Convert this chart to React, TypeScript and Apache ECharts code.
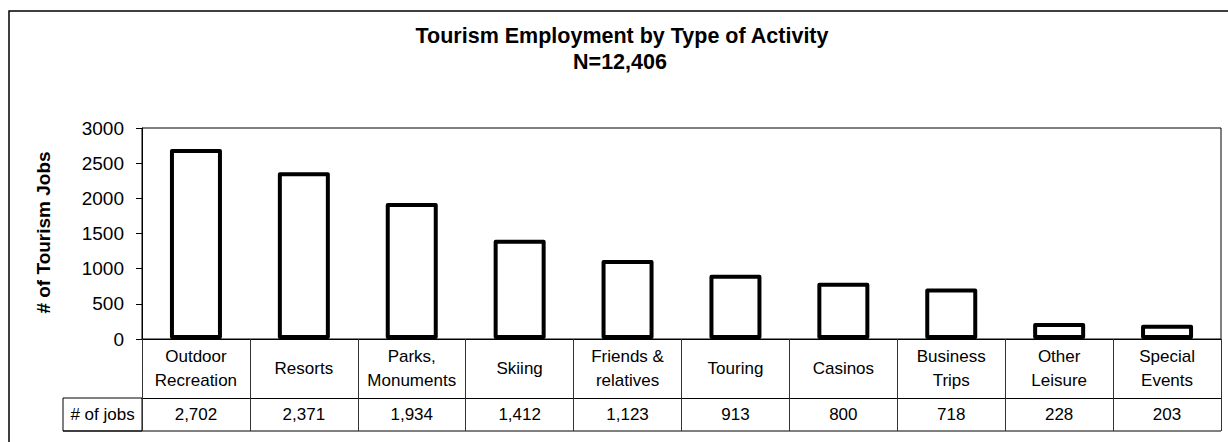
import React, { useEffect, useRef } from "react";
import * as echarts from "echarts";

const categories = [
  "Outdoor\nRecreation",
  "Resorts",
  "Parks,\nMonuments",
  "Skiing",
  "Friends &\nrelatives",
  "Touring",
  "Casinos",
  "Business\nTrips",
  "Other\nLeisure",
  "Special\nEvents",
];
const jobs = [2702, 2371, 1934, 1412, 1123, 913, 800, 718, 228, 203];
const titleLines = ["Tourism Employment by Type of Activity", "N=12,406"];
const yAxisTitle = "# of Tourism Jobs";
const rowHeader = "# of jobs";
const yMin = 0;
const yMax = 3000;
const yStep = 500;

const FONT = "'Liberation Sans', Arial, Helvetica, sans-serif";

export default function App() {
  const ref = useRef<HTMLDivElement>(null);
  useEffect(() => {
    if (!ref.current) return;
    const chart = echarts.init(ref.current, null, { renderer: "svg" });
    const gridLeft = 142;
    const gridTop = 128;
    const gridW = 1079;
    const gridH = 211;
    const gridBottomY = gridTop + gridH;
    const catRowH = 59;
    const valRowH = 33;
    const rowY = gridBottomY + catRowH;
    const bottomY = rowY + valRowH;
    const tableLeft = 63;
    chart.setOption({
      animation: false,
      backgroundColor: "#fff",
      textStyle: { fontFamily: FONT },
      grid: {
        left: gridLeft,
        top: gridTop,
        width: gridW,
        height: gridH,
        show: true,
        borderColor: "#000",
        borderWidth: 1,
        backgroundColor: "transparent",
      },
      xAxis: [
        {
          type: "category",
          data: categories,
          position: "bottom",
          boundaryGap: true,
          axisLine: { show: true, lineStyle: { color: "#000", width: 1 } },
          axisTick: {
            show: true,
            interval: 0,
            length: catRowH,
            lineStyle: { color: "#333", width: 1 },
          },
          axisLabel: {
            interval: 0,
            fontSize: 17,
            color: "#000",
            fontFamily: FONT,
            margin: 29,
            verticalAlign: "middle",
            lineHeight: 24,
          },
          splitLine: { show: false },
        },
        {
          type: "category",
          data: jobs.map((v) => v.toLocaleString("en-US")),
          position: "bottom",
          offset: catRowH,
          boundaryGap: true,
          axisLine: { show: true, lineStyle: { color: "#000", width: 1 } },
          axisTick: {
            show: true,
            interval: 0,
            length: valRowH,
            lineStyle: { color: "#333", width: 1 },
          },
          axisLabel: {
            interval: 0,
            fontSize: 17,
            color: "#000",
            fontFamily: FONT,
            margin: 16.5,
            verticalAlign: "middle",
          },
          splitLine: { show: false },
        },
      ],
      yAxis: {
        type: "value",
        min: yMin,
        max: yMax,
        interval: yStep,
        axisLine: { show: true, lineStyle: { color: "#000", width: 1 } },
        axisTick: { show: true, length: 6, lineStyle: { color: "#000" } },
        axisLabel: {
          fontSize: 19,
          color: "#000",
          fontFamily: FONT,
          margin: 18,
          formatter: (v: number) => String(v),
        },
        splitLine: { show: false },
      },
      series: [
        {
          type: "bar",
          xAxisIndex: 0,
          data: jobs,
          barWidth: 52,
          itemStyle: {
            color: "#fff",
            borderColor: "#000",
            borderWidth: 4,
            borderJoin: "round",
          },
        },
      ],
      graphic: [
        {
          type: "rect",
          silent: true,
          shape: { x: 9, y: 11, width: 1400, height: 600 },
          style: { fill: "none", stroke: "#000", lineWidth: 1.5 },
        },
        {
          type: "text",
          x: 622,
          y: 36,
          style: {
            text: titleLines[0],
            textAlign: "center",
            textVerticalAlign: "middle",
            font: `bold 21.5px ${FONT}`,
            fill: "#000",
          },
        },
        {
          type: "text",
          x: 620,
          y: 62,
          style: {
            text: titleLines[1],
            textAlign: "center",
            textVerticalAlign: "middle",
            font: `bold 21.5px ${FONT}`,
            fill: "#000",
          },
        },
        {
          type: "text",
          x: 43,
          y: 232.5,
          rotation: Math.PI / 2,
          style: {
            text: yAxisTitle,
            textAlign: "center",
            textVerticalAlign: "middle",
            font: `bold 19px ${FONT}`,
            fill: "#000",
          },
        },
        {
          type: "rect",
          silent: true,
          shape: { x: tableLeft, y: rowY, width: gridLeft - tableLeft, height: valRowH },
          style: { fill: "none", stroke: "#000", lineWidth: 1 },
        },
        {
          type: "line",
          silent: true,
          shape: { x1: tableLeft, y1: bottomY, x2: gridLeft + gridW, y2: bottomY },
          style: { stroke: "#000", lineWidth: 1 },
        },
        {
          type: "text",
          x: (tableLeft + gridLeft) / 2,
          y: rowY + valRowH / 2,
          style: {
            text: rowHeader,
            textAlign: "center",
            textVerticalAlign: "middle",
            font: `17px ${FONT}`,
            fill: "#000",
          },
        },
      ],
    });
    return () => chart.dispose();
  }, []);
  return (
    <div
      ref={ref}
      style={{ position: "absolute", left: 0, top: 0, width: 1228, height: 442 }}
    />
  );
}
